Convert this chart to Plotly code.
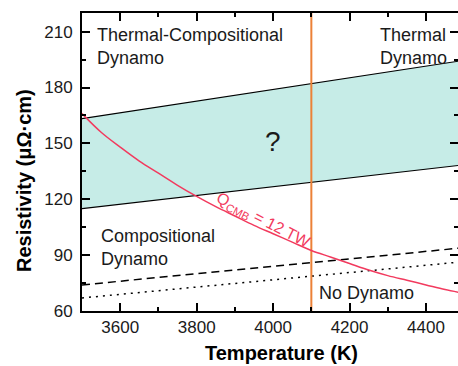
import plotly.graph_objects as go

# Boundary lines (straight, given by their end points)
line_temps = [3500, 4500]
upper_bound = [163.3, 194.6]
lower_bound = [115.0, 138.5]
dashed_line = [74.0, 94.0]
dotted_line = [67.0, 86.5]

# Q_CMB = 12 TW curve
q_temps = [3500, 3550, 3600, 3650, 3700, 3750, 3800, 3850, 3900, 3950, 4000,
           4050, 4100, 4150, 4200, 4250, 4300, 4350, 4400, 4450, 4500]
q_resist = [166, 156, 148, 140.5, 134, 127.5, 121.5, 116, 111, 106, 101.5,
            97, 92.5, 89, 85.5, 82, 79, 76.5, 74, 71.5, 69.5]

cmb_temp = 4100
x_range = [3500, 4483.7]
y_range = [60, 220]
x_ticks = [3600, 3800, 4000, 4200, 4400]
y_ticks = [60, 90, 120, 150, 180, 210]

W, H = 458, 366
L, R, T, B = 82, 0, 13, 55
pw, ph = W - L - R, H - T - B


def px(xp):
    return (xp - L) / pw


def py(yp):
    return (H - B - yp) / ph


fig = go.Figure()

fig.add_trace(go.Scatter(x=line_temps, y=lower_bound, mode="lines",
                         line=dict(color="black", width=1.2), showlegend=False))
fig.add_trace(go.Scatter(x=line_temps, y=upper_bound, mode="lines",
                         fill="tonexty", fillcolor="#C6ECE7",
                         line=dict(color="black", width=1.2), showlegend=False))
fig.add_trace(go.Scatter(x=line_temps, y=dashed_line, mode="lines",
                         line=dict(color="black", width=1.5, dash="8px,5px"),
                         showlegend=False))
fig.add_trace(go.Scatter(x=line_temps, y=dotted_line, mode="lines",
                         line=dict(color="black", width=1.5, dash="2px,5px"),
                         showlegend=False))
fig.add_trace(go.Scatter(x=[cmb_temp, cmb_temp], y=y_range, mode="lines",
                         line=dict(color="#EC8137", width=2), showlegend=False))
fig.add_trace(go.Scatter(x=q_temps, y=q_resist, mode="lines",
                         line=dict(color="#F23A5E", width=1.5, shape="spline"),
                         showlegend=False))
# right-hand mirror ticks without a spine
fig.add_trace(go.Scatter(x=[None], y=[None], yaxis="y2", showlegend=False))

font = "Liberation Sans, Arial, sans-serif"
ann = []


def text(t, x, y, size=18, color="#1a1a1a", anchor="left", angle=0):
    ann.append(dict(text=t, xref="paper", yref="paper", x=px(x), y=py(y),
                    xanchor=anchor, yanchor="middle", showarrow=False,
                    align="left", textangle=angle,
                    font=dict(family=font, size=size, color=color)))


text("Thermal-Compositional<br>Dynamo", 95, 46)
text("Thermal<br>Dynamo", 378, 46)
text("?", 273, 141, size=28, anchor="center")
text("Compositional<br>Dynamo", 99, 247)
text("No Dynamo", 317, 293)
text("Q<sub>CMB</sub> = 12 TW", 263, 220, size=16, color="#F23A5E",
     anchor="center", angle=27)
ann.append(dict(text="<b>Temperature (K)</b>", xref="paper", yref="paper",
                x=px(281), y=py(353), xanchor="center", yanchor="middle",
                showarrow=False, font=dict(family=font, size=20, color="black")))
ann.append(dict(text="<b>Resistivity (μΩ·cm)</b>", xref="paper", yref="paper",
                x=px(24), y=py(181), xanchor="center", yanchor="middle",
                showarrow=False, textangle=-90,
                font=dict(family=font, size=20, color="black")))

axis_common = dict(showgrid=False, zeroline=False, showline=True,
                   linecolor="black", linewidth=2, ticks="inside",
                   ticklen=8, tickwidth=1.5, tickcolor="black",
                   tickfont=dict(family=font, size=17, color="#1a1a1a"))

fig.update_layout(
    width=W, height=H,
    margin=dict(l=L, r=R, t=T, b=B),
    paper_bgcolor="white", plot_bgcolor="white",
    annotations=ann,
    xaxis=dict(range=x_range, tickvals=x_ticks, mirror="ticks",
               minor=dict(ticks="inside", ticklen=4, tickwidth=1.5,
                          tickcolor="black", dtick=100, tick0=3500),
               **axis_common),
    yaxis=dict(range=y_range, tickvals=y_ticks, ticklabelstandoff=4,
               minor=dict(ticks="inside", ticklen=4, tickwidth=1.5,
                          tickcolor="black", dtick=15, tick0=60),
               **axis_common),
    yaxis2=dict(range=y_range, overlaying="y", side="right", showline=False,
                showgrid=False, zeroline=False, showticklabels=False,
                ticks="inside", ticklen=8, tickwidth=1.5, tickcolor="black",
                tickvals=y_ticks,
                minor=dict(ticks="inside", ticklen=4, tickwidth=1.5,
                           tickcolor="black", dtick=15, tick0=60)),
)

fig.write_html("out.html")
